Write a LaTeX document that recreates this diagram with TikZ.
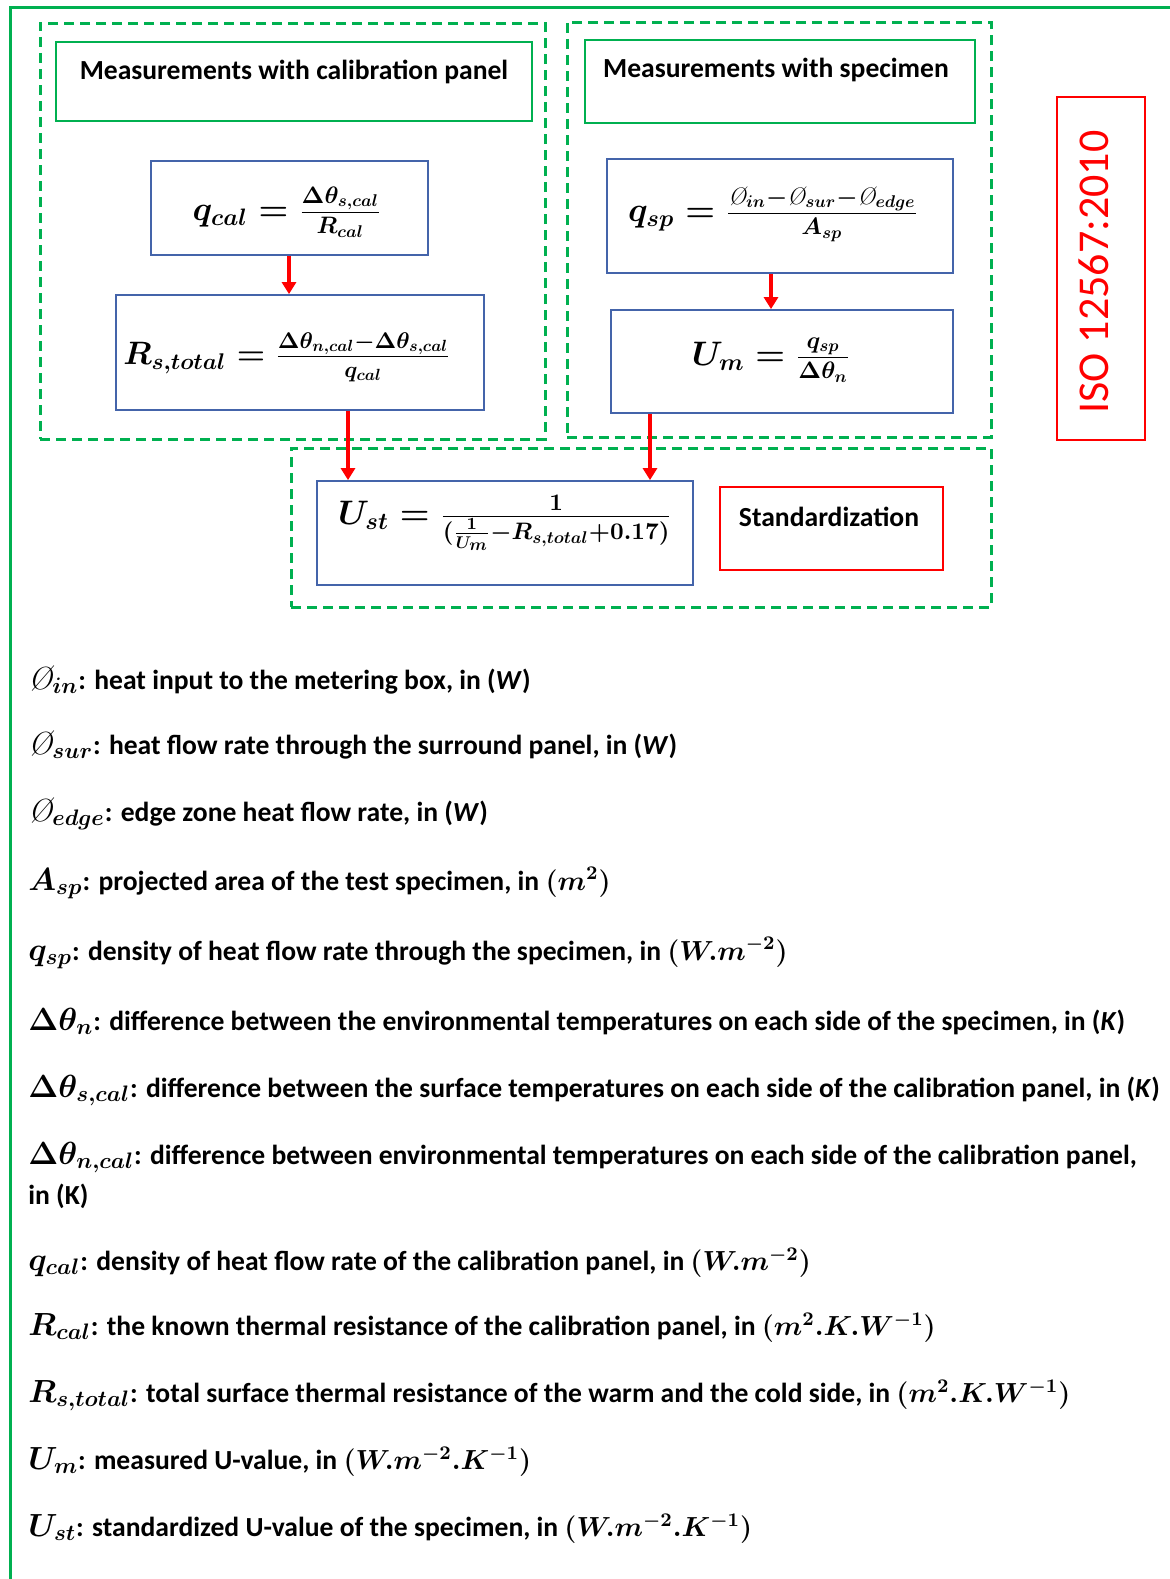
\RequirePackage{fix-cm}
\documentclass[tikz,border=0pt]{standalone}
\usepackage{amsmath,amssymb}
\usepackage{fontspec}
\setmainfont{Carlito}
\newfontfamily\lmfont{Latin Modern Roman}
\usetikzlibrary{arrows.meta,fit}
\definecolor{ogreen}{RGB}{0,176,80}
\definecolor{oblue}{RGB}{68,100,170}
\newcommand\PHI{\text{\lmfont\itshape\mdseries\O}}
\newcommand\sym[1]{{\fontsize{16}{18}\selectfont$#1$}}
\tikzset{
 dashbox/.style={draw=ogreen, line width=1.5pt, dash pattern=on 5pt off 3pt, inner sep=0pt},
 titlebox/.style={draw=ogreen, line width=0.8pt, inner sep=0pt},
 eqbox/.style={draw=oblue, line width=0.9pt, inner sep=0pt},
 redbox/.style={draw=red, line width=0.9pt, inner sep=0pt},
 flow/.style={draw=red, line width=1.6pt, -{Triangle[width=7pt,length=6pt]}},
 titletext/.style={font=\fontsize{13.8}{16}\selectfont\bfseries, inner sep=0pt},
 eqtext/.style={font=\fontsize{17}{20}\selectfont\boldmath, inner sep=0pt},
 legend/.style={anchor=base west, inner sep=0pt, font=\fontsize{13.8}{16}\selectfont\bfseries\boldmath},
}
\begin{document}
\begin{tikzpicture}[x=0.5pt,y=-0.5pt]
\useasboundingbox (0,0) rectangle (1170,1579);
% outer frame
\draw[ogreen, line width=1.5pt] (10,1579) -- (10,7) -- (1170,7);
% group boxes
\node[dashbox, fit={(40,23)(545,439)}] (gcal) {};
\node[dashbox, fit={(567,22)(991,437)}] (gsp) {};
\node[dashbox, fit={(291,448)(991,607)}] (gst) {};
% title boxes
\node[titlebox, fit={(56,42)(532,121)}] (tcal) {};
\node[titletext] (tcaltxt) at (294,72) {Measurements with calibration panel};
\node[titlebox, fit={(585,40)(975,123)}] (tsp) {};
\node[titletext] (tsptxt) at (776,70) {Measurements with specimen};
% ISO box
\node[redbox, fit={(1057,97)(1145,440)}] (iso) {};
\node[inner sep=0pt, rotate=90, text=red, font=\fontsize{22}{24}\selectfont] (isotxt) at (1094,272) {ISO 12567:2010};
% Standardization
\node[redbox, fit={(720,487)(943,570)}] (stdbox) {};
\node[titletext] (stdtxt) at (829,517) {Standardization};
% equation boxes
\node[eqbox, fit={(151,161)(428,255)}] (qcal) {};
\node[eqtext] (qcaleq) at (287,212) {$q_{cal}=\frac{\Delta\theta_{s,cal}}{R_{cal}}$};
\node[eqbox, fit={(116,295)(484,410)}] (rst) {};
\node[eqtext, font=\fontsize{16.2}{19}\selectfont\boldmath] (rsteq) at (287,357) {$R_{s,total}=\frac{\Delta\theta_{n,cal}-\Delta\theta_{s,cal}}{q_{cal}}$};
\node[eqbox, fit={(607,159)(953,273)}] (qsp) {};
\node[eqtext] (qspeq) at (773,214) {$q_{sp}=\frac{\PHI_{in}-\PHI_{sur}-\PHI_{edge}}{A_{sp}}$};
\node[eqbox, fit={(611,310)(953,413)}] (um) {};
\node[eqtext] (umeq) at (771,360) {$U_{m}=\frac{q_{sp}}{\Delta\theta_{n}}$};
\node[eqbox, fit={(317,481)(693,585)}] (ust) {};
\node[eqtext] (usteq) at (505,523) {$U_{st}=\frac{1}{(\frac{1}{U_m}-R_{s,total}+0.17)}$};
% arrows
\coordinate (x1) at (289,0);
\coordinate (x2) at (771,0);
\coordinate (x3) at (348,0);
\coordinate (x4) at (650,0);
\draw[flow] (qcal.south -| x1) -- (rst.north -| x1);
\draw[flow] (qsp.south -| x2) -- (um.north -| x2);
\draw[flow] (rst.south -| x3) -- (ust.north -| x3);
\draw[flow] (um.south -| x4) -- (ust.north -| x4);
% legend
\node[legend] (l1) at (28,689) {\sym{\PHI_{in}}: heat input to the metering box, in (\textit{W})};
\node[legend] (l2) at (28,754) {\sym{\PHI_{sur}}: heat flow rate through the surround panel, in (\textit{W})};
\node[legend] (l3) at (28,821) {\sym{\PHI_{edge}}: edge zone heat flow rate, in (\textit{W})};
\node[legend] (l4) at (28,890) {\sym{A_{sp}}: projected area of the test specimen, in $(m^{2})$};
\node[legend] (l5) at (28,960) {\sym{q_{sp}}: density of heat flow rate through the specimen, in $(W.m^{-2})$};
\node[legend] (l6) at (28,1030) {\sym{\Delta\theta_{n}}: difference between the environmental temperatures on each side of the specimen, in (\textit{K})};
\node[legend] (l7) at (28,1097) {\sym{\Delta\theta_{s,cal}}: difference between the surface temperatures on each side of the calibration panel, in (\textit{K})};
\node[legend] (l8) at (28,1164) {\sym{\Delta\theta_{n,cal}}: difference between environmental temperatures on each side of the calibration panel,};
\node[legend] (l8b) at (28,1204) {in (K)};
\node[legend] (l9) at (28,1270) {\sym{q_{cal}}: density of heat flow rate of the calibration panel, in $(W.m^{-2})$};
\node[legend] (l10) at (28,1335) {\sym{R_{cal}}: the known thermal resistance of the calibration panel, in $(m^{2}.K.W^{-1})$};
\node[legend] (l11) at (28,1402) {\sym{R_{s,total}}: total surface thermal resistance of the warm and the cold side, in $(m^{2}.K.W^{-1})$};
\node[legend] (l12) at (28,1469) {\sym{U_{m}}: measured U-value, in $(W.m^{-2}.K^{-1})$};
\node[legend] (l13) at (28,1536) {\sym{U_{st}}: standardized U-value of the specimen, in $(W.m^{-2}.K^{-1})$};
\end{tikzpicture}
\end{document}
